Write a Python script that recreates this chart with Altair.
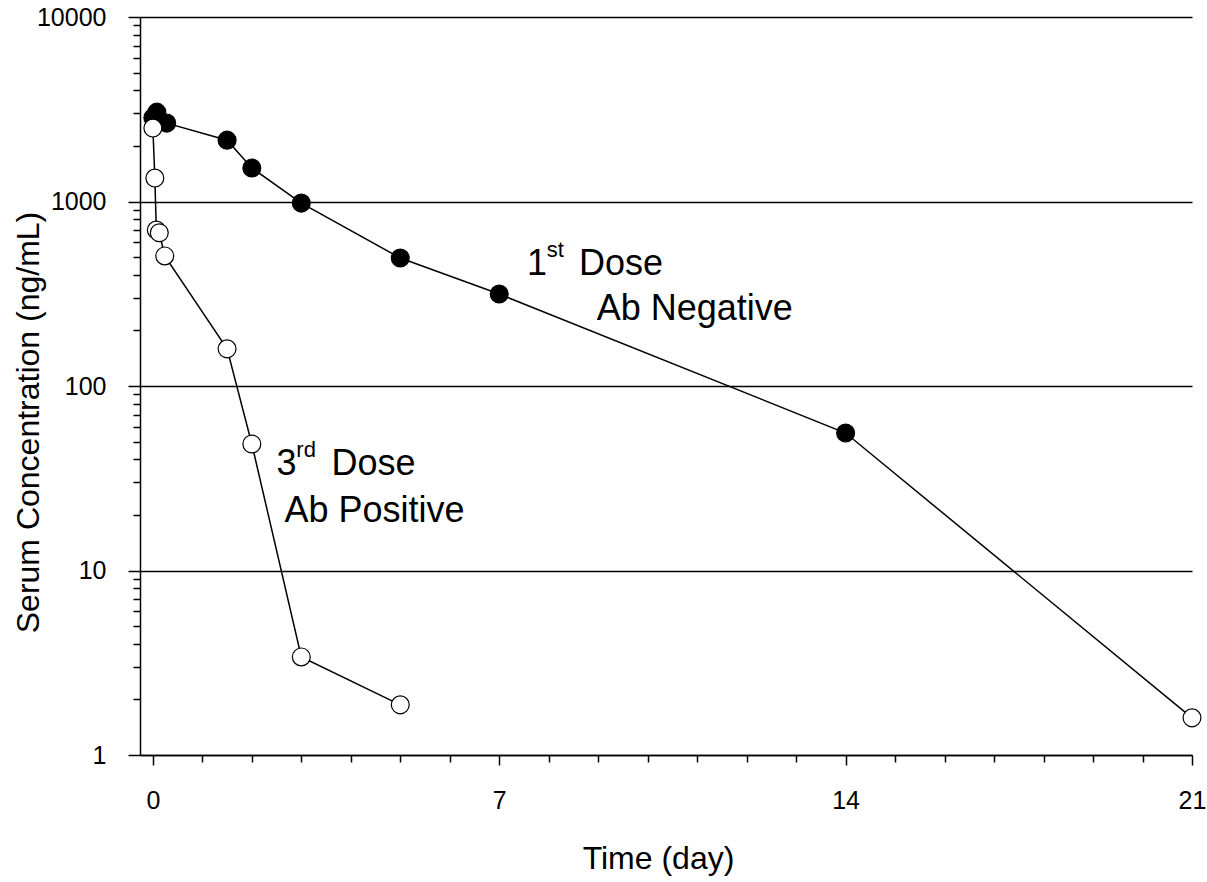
import altair as alt
import pandas as pd

# 1st dose (Ab negative)
dose1_t = [0.0, 0.08, 0.28, 1.5, 2.0, 3.0, 5.0, 7.0, 14.0, 21.0]
dose1_c = [2840, 3050, 2660, 2150, 1520, 980, 494, 315, 55.6, 1.59]
dose1_filled = [1, 1, 1, 1, 1, 1, 1, 1, 1, 0]
# 3rd dose (Ab positive)
dose3_t = [0.0, 0.04, 0.07, 0.13, 0.24, 1.5, 2.0, 3.0, 5.0]
dose3_c = [2500, 1340, 700, 677, 507, 159, 48.5, 3.4, 1.87]

y_major = [1, 10, 100, 1000, 10000]
y_minor = [m * d for d in [1, 10, 100, 1000] for m in range(2, 10)]
x_ticks = list(range(0, 22))
x_major = [0, 7, 14, 21]

# annotation texts
ann_text = ["1", "st", "Dose", "Ab Negative", "3", "rd", "Dose", "Ab Positive"]
ann_t = [7.56, 7.96, 8.61, 8.97, 2.50, 2.90, 3.61, 2.66]
ann_c = [399.5, 500, 399.5, 228, 32.9, 41.2, 32.9, 18.3]
ann_fs = [36, 22, 36, 36, 36, 22, 36, 36]

df1 = pd.DataFrame({"t": dose1_t, "c": dose1_c, "filled": dose1_filled})
df3 = pd.DataFrame({"t": dose3_t, "c": dose3_c, "filled": [0] * len(dose3_t)})
dfa = pd.DataFrame({"t": ann_t, "c": ann_c, "text": ann_text, "fs": ann_fs})

FONT = "Liberation Sans"

x_enc = alt.X(
    "t:Q",
    scale=alt.Scale(domain=[-0.26, 21], nice=False, zero=False),
    axis=alt.Axis(
        values=x_ticks,
        labelExpr="datum.value % 7 == 0 ? datum.label : ''",
        tickSize={"condition": {"test": "datum.value % 7 == 0", "value": 10}, "value": 7},
        labelPadding=23,
        labelOverlap=False,
        labelFlush=False,
        grid=False,
        title="Time (day)",
        titleX=518,
        titleY=113,
        titleAlign="center",
        titleBaseline="alphabetic",
    ),
)

major_test = "indexof([1,10,100,1000,10000], datum.value) >= 0"
y_enc = alt.Y(
    "c:Q",
    scale=alt.Scale(type="log", domain=[1, 10000], nice=False),
    axis=alt.Axis(
        values=y_major + y_minor,
        format="d",
        labelExpr=major_test + " ? datum.label : ''",
        tickSize={"condition": {"test": major_test, "value": 12}, "value": 7},
        gridOpacity={"condition": {"test": major_test, "value": 1}, "value": 0},
        grid=True,
        gridColor="black",
        gridWidth=1.7,
        labelPadding=22,
        labelOverlap=False,
        labelFlush=False,
        title="Serum Concentration (ng/mL)",
        titleAngle=270,
        titleX=-102,
        titleY=405,
        titleAlign="center",
        titleBaseline="alphabetic",
    ),
)

fill_scale = alt.Scale(domain=[0, 1], range=["white", "black"])

line1 = alt.Chart(df1).mark_line(color="black", strokeWidth=1.5).encode(x=x_enc, y=y_enc)
line3 = alt.Chart(df3).mark_line(color="black", strokeWidth=1.5).encode(x=x_enc, y=y_enc)
pts1 = alt.Chart(df1).mark_point(shape="circle", size=320, stroke="black", strokeWidth=1.2, opacity=1, filled=True).encode(
    x=x_enc, y=y_enc,
    fill=alt.Fill("filled:N", scale=fill_scale, legend=None),
)
pts3 = alt.Chart(df3).mark_point(shape="circle", size=320, stroke="black", strokeWidth=1.2, opacity=1, filled=True).encode(
    x=x_enc, y=y_enc,
    fill=alt.Fill("filled:N", scale=fill_scale, legend=None),
)
ann = alt.Chart(dfa).mark_text(align="left", baseline="alphabetic", font=FONT, color="black").encode(
    x=x_enc, y=y_enc, text="text:N", size=alt.Size("fs:Q", scale=None, legend=None)
)

chart = (
    alt.layer(line1, line3, pts1, pts3, ann)
    .properties(
        width=1052,
        height=738,
        padding={"left": 140, "top": 17, "right": 15, "bottom": 127},
        autosize="none",
        background="white",
    )
    .configure_view(stroke=None)
    .configure_axis(
        labelFont=FONT,
        labelFontSize=25,
        labelColor="black",
        titleFont=FONT,
        titleFontSize=32,
        titleFontWeight="normal",
        titleColor="black",
        domainColor="black",
        domainWidth=1.5,
        tickColor="black",
        tickWidth=1.5,
    )
)

chart.save("out.html", embed_options={"renderer": "svg", "actions": False})
